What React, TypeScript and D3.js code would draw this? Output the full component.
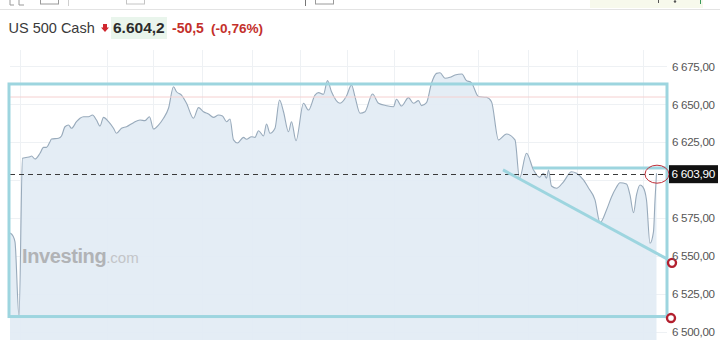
import React from "react";
import * as d3 from "d3";

// time in minutes from session start, price in index points
const times = [0, 6, 10, 18, 25, 32, 40, 43, 50, 60, 67, 73, 80, 83, 97, 103, 110, 117, 123, 133, 140, 147, 157, 165, 173, 180, 187, 197, 207, 213, 223, 233, 247, 260, 270, 279, 287, 297, 307, 317, 327, 333, 343, 353, 367, 377, 387, 397, 407, 417, 425, 433, 440, 447, 455, 467, 473, 483, 490, 497, 507, 513, 520, 530, 539, 547, 557, 563, 572, 587, 597, 610, 617, 627, 635, 643, 660, 673, 683, 690, 700, 710, 725, 737, 753, 767, 773, 783, 797, 807, 817, 823, 833, 843, 853, 860, 870, 880, 890, 904, 912, 923, 937, 953, 963, 977, 993, 1010, 1019, 1033, 1047, 1059, 1067, 1073, 1077, 1083, 1093, 1107, 1123, 1133, 1147, 1157, 1170, 1180, 1193, 1203, 1212, 1220, 1233, 1240, 1247, 1253, 1260, 1266, 1273, 1280, 1287, 1290, 1293];
const prices = [6565.1, 6563.1, 6559.2, 6509.7, 6614.4, 6614.9, 6615.4, 6615.9, 6613.9, 6617.7, 6621.6, 6621.6, 6625.3, 6627.1, 6627.6, 6629.1, 6635.2, 6636.3, 6634.2, 6638.5, 6640.8, 6641.8, 6641.8, 6642.9, 6639.6, 6635.7, 6641.4, 6638.5, 6634.2, 6630.9, 6634.2, 6635.2, 6637.9, 6639.6, 6639.2, 6641.8, 6633.7, 6636.3, 6640.8, 6647.4, 6661.6, 6658.3, 6656.1, 6650.7, 6640.8, 6647.8, 6645.1, 6643.6, 6641.4, 6642.9, 6642.3, 6638.5, 6640.3, 6626.5, 6624.5, 6628.2, 6626.9, 6628.6, 6628.2, 6632.6, 6629.1, 6637.0, 6630.9, 6634.2, 6652.8, 6645.1, 6631.9, 6638.5, 6626.0, 6650.7, 6646.2, 6656.1, 6657.7, 6656.6, 6665.6, 6658.3, 6650.7, 6655.5, 6662.7, 6655.0, 6644.1, 6645.1, 6656.8, 6650.7, 6649.1, 6648.4, 6653.3, 6648.9, 6654.4, 6650.7, 6652.4, 6649.1, 6651.1, 6663.9, 6670.4, 6670.8, 6667.2, 6667.8, 6669.3, 6670.0, 6666.0, 6664.2, 6655.1, 6654.6, 6651.7, 6626.5, 6630.4, 6626.5, 6601.2, 6617.7, 6606.7, 6601.8, 6604.5, 6601.2, 6606.7, 6596.1, 6594.6, 6598.9, 6605.5, 6604.5, 6600.1, 6594.8, 6586.9, 6571.9, 6580.3, 6588.9, 6594.8, 6598.3, 6597.4, 6590.2, 6578.5, 6590.2, 6596.8, 6595.4, 6586.9, 6558.3, 6566.0, 6586.9, 6604.5];

const yTickValues = [6500, 6525, 6550, 6575, 6600, 6625, 6650, 6675];
const yLabelValues = [6500, 6525, 6550, 6575, 6625, 6650, 6675];
const xGridTimes = [20, 194, 286, 384, 484, 580, 674, 768, 936, 1036, 1134, 1266];
const lastPrice = 6603.9;

const title = "US 500 Cash";
const priceText = "6.604,2";
const changeText = "-50,5";
const changePctText = "(-0,76%)";

// drawn annotations (time, price)
const boxTimes = [-2, 1314];
const boxPrices = [6663.4, 6510];
const pinkLevel = 6654.8;
const shortLevel = { t0: 1046, t1: 1314, p: 6608 };
const trendLine = { t0: 986, p0: 6606.7, t1: 1314, p1: 6548 };
const ringTimes = [1324, 1322];
const ringPrices = [6545.4, 6509];

const W = 720;
const H = 340;
const plotLeft = 10;
const plotRight = 667;
const plotTop = 50;
const plotBottom = 346;

const fmt = d3
  .formatLocale({ decimal: ",", thousands: " ", grouping: [3], currency: ["", ""] })
  .format(",.2f");

export default function App() {
  const x = d3.scaleLinear().domain([0, 1314]).range([plotLeft, plotRight]);
  const y = d3.scaleLinear().domain([6500, 6675]).range([331.7, 66.4]);
  const data = times.map((t, i) => ({ t, p: prices[i] }));
  const line = d3
    .line<{ t: number; p: number }>()
    .x((d) => x(d.t))
    .y((d) => y(d.p))
    .curve(d3.curveMonotoneX);
  const area = d3
    .area<{ t: number; p: number }>()
    .x((d) => x(d.t))
    .y0(plotBottom)
    .y1((d) => y(d.p))
    .curve(d3.curveMonotoneX);

  const cyan = "#9dd5df";
  const font = "'Liberation Sans', Arial, sans-serif";

  return (
    <svg
      width={W}
      height={H}
      style={{ position: "fixed", left: 0, top: 0, background: "#fff" }}
      fontFamily={font}
    >
      <rect x={0} y={0} width={W} height={H} fill="#fff" />
      {/* toolbar remnants */}
      <g stroke="#9a9a9a" fill="none" strokeWidth={1}>
        <path d="M10 -2 V5 M10 5 H14 M19 -2 V5 M19 5 H24" />
        <rect x={40.5} y={-6} width={18} height={10} />
        <line x1={68.5} y1={0} x2={68.5} y2={6} stroke="#cfcfcf" />
        <rect x={126.5} y={-6} width={18} height={10} stroke="#c4c4c4" />
        <line x1={305.5} y1={0} x2={305.5} y2={6} stroke="#777" />
        <rect x={315.5} y={-6} width={18} height={10} />
      </g>
      <rect x={590} y={0} width={113} height={8} fill="#f7f9ec" />
      <line x1={658.5} y1={0} x2={658.5} y2={3} stroke="#555" />
      <circle cx={675} cy={1.5} r={1.2} fill="#555" />
      <line x1={700.5} y1={0} x2={700.5} y2={4} stroke="#3a9a5a" />
      <line x1={0} y1={9.5} x2={W} y2={9.5} stroke="#e3e3e3" />

      {/* header */}
      <text x={8.5} y={33} fontSize={14.5} fill="#3a3a3a">
        {title}
      </text>
      <path d="M103 24 h4 v3.5 h2 l-4 4.5 l-4 -4.5 h2 z" fill="#d0262e" />
      <rect x={111} y={17} width={56} height={22} fill="#e9f5ec" />
      <text x={113} y={33} fontSize={15.5} fontWeight="bold" fill="#2b2b2b">
        {priceText}
      </text>
      <text x={172} y={33} fontSize={14} fontWeight="bold" fill="#c4302b">
        {changeText}
      </text>
      <text x={211} y={33} fontSize={13.6} fontWeight="bold" fill="#c4302b">
        {changePctText}
      </text>

      {/* grid */}
      <g stroke="#eef1f4" strokeWidth={1}>
        {yTickValues.map((v) => (
          <line key={v} x1={plotLeft} x2={plotRight} y1={Math.round(y(v)) + 0.5} y2={Math.round(y(v)) + 0.5} />
        ))}
        {xGridTimes.map((t) => (
          <line key={t} x1={Math.round(x(t)) + 0.5} x2={Math.round(x(t)) + 0.5} y1={plotTop} y2={H} />
        ))}
      </g>

      {/* series */}
      <path d={area(data) || ""} fill="#e2ebf4" fillOpacity={0.92} />
      <path d={line(data) || ""} fill="none" stroke="#98aabb" strokeWidth={1.1} />

      {/* watermark */}
      <text x={22} y={263} fontSize={20} fontWeight="bold" fill="#b1b3b6" letterSpacing={-0.4}>
        Investing
        <tspan fontSize={15} fontWeight="normal" fill="#c3c5c8" letterSpacing={0}>
          .com
        </tspan>
      </text>

      {/* levels */}
      <line x1={plotLeft} x2={plotRight} y1={y(pinkLevel)} y2={y(pinkLevel)} stroke="#f5d0d0" strokeWidth={1} />
      <line
        x1={plotLeft}
        x2={plotRight}
        y1={Math.round(y(lastPrice)) + 0.5}
        y2={Math.round(y(lastPrice)) + 0.5}
        stroke="#3a3a3a"
        strokeWidth={1}
        strokeDasharray="5,4"
      />

      {/* cyan annotations */}
      <rect
        x={x(boxTimes[0])}
        y={y(boxPrices[0])}
        width={x(boxTimes[1]) - x(boxTimes[0])}
        height={y(boxPrices[1]) - y(boxPrices[0])}
        fill="none"
        stroke={cyan}
        strokeWidth={3}
      />
      <line
        x1={x(shortLevel.t0)}
        x2={x(shortLevel.t1)}
        y1={y(shortLevel.p)}
        y2={y(shortLevel.p)}
        stroke={cyan}
        strokeWidth={3}
      />
      <line
        x1={x(trendLine.t0)}
        y1={y(trendLine.p0)}
        x2={x(trendLine.t1)}
        y2={y(trendLine.p1)}
        stroke={cyan}
        strokeWidth={3}
      />

      {/* red marks */}
      <ellipse cx={x(1294)} cy={y(lastPrice)} rx={12} ry={9} fill="none" stroke="#c0303a" strokeWidth={1} />
      {ringTimes.map((t, i) => (
        <circle key={t} cx={x(t)} cy={y(ringPrices[i])} r={4} fill="#fff" stroke="#b3202f" strokeWidth={2.4} />
      ))}

      {/* axis labels */}
      {yLabelValues.map((v) => (
        <text key={v} x={672} y={y(v) + 4.2} fontSize={11.6} fill="#555" letterSpacing={-0.3}>
          {fmt(v)}
        </text>
      ))}
      <rect x={669} y={y(lastPrice) - 9} width={49} height={18} fill="#111" />
      <text x={671.5} y={y(lastPrice) + 4.2} fontSize={11.8} fill="#fff" letterSpacing={-0.3}>
        {fmt(lastPrice)}
      </text>
    </svg>
  );
}
